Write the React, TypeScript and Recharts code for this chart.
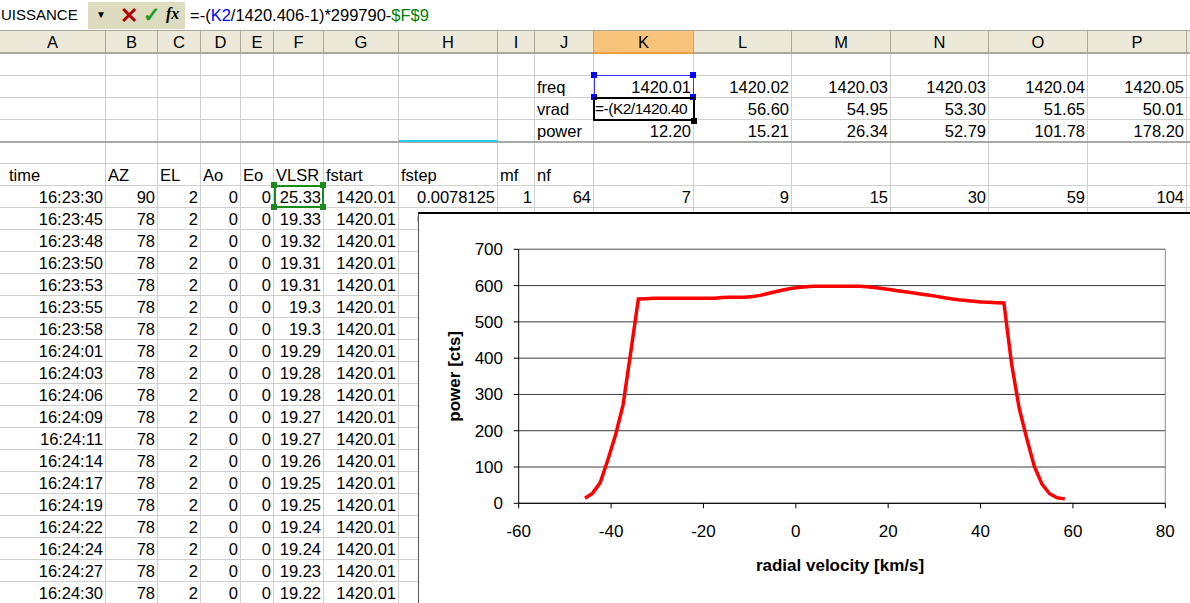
import { CartesianGrid, Label, Line, LineChart, ReferenceLine, XAxis, YAxis } from "recharts";

// radial velocity [km/s] of the 64 channels, low to high
const velocity = [
  -45.63, -43.99, -42.34, -40.69, -39.04, -37.39, -35.74, -34.09, -32.44, -30.79, -29.14, -27.49, -25.84, -24.19, -22.55, -20.9,
  -19.25, -17.6, -15.95, -14.3, -12.65, -11.0, -9.35, -7.71, -6.06, -4.41, -2.76, -1.11, 0.54, 2.19, 3.84, 5.49,
  7.13, 8.78, 10.43, 12.08, 13.73, 15.38, 17.03, 18.68, 20.33, 21.97, 23.62, 25.27, 26.92, 28.57, 30.22, 31.87,
  33.52, 35.17, 36.81, 38.46, 40.11, 41.76, 43.41, 45.06, 46.71, 48.36, 50.01, 51.65, 53.3, 54.95, 56.6, 58.25,
];
// power [cts] for each channel
const power = [
  14, 28, 57, 120, 188, 272, 416, 563, 564, 565, 565, 565, 565, 565, 565, 565,
  565, 565, 567, 568, 568, 568, 570, 573, 578, 583, 588, 592, 595, 597, 598, 598,
  598, 598, 598, 598, 598, 597, 595, 592, 589, 586, 583, 580, 577, 574, 571, 567,
  564, 561, 559, 557, 555, 554, 553, 552, 385, 262, 178.2, 101.78, 52.79, 26.34, 15.21, 12.2,
];
const xTicks = [-60, -40, -20, 0, 20, 40, 60, 80];
const yTicks = [0, 100, 200, 300, 400, 500, 600, 700];

// spreadsheet around the chart
const colNames = ["A", "B", "C", "D", "E", "F", "G", "H", "I", "J", "K", "L", "M", "N", "O", "P", "Q"];
const colEdges = [0, 106, 158, 201, 241, 274, 324, 399, 498, 535, 594, 694, 792, 891, 989, 1088, 1187, 1290];
const freqRow = ["1420.01", "1420.02", "1420.03", "1420.03", "1420.04", "1420.05"];
const vradRow = ["=-(K2/1420.40", "56.60", "54.95", "53.30", "51.65", "50.01"];
const powerRow = ["12.20", "15.21", "26.34", "52.79", "101.78", "178.20"];
const headerRow = ["time", "AZ", "EL", "Ao", "Eo", "VLSR", "fstart", "fstep", "mf", "nf"];
const times = [
  "16:23:30", "16:23:45", "16:23:48", "16:23:50", "16:23:53", "16:23:55", "16:23:58", "16:24:01", "16:24:03", "16:24:06",
  "16:24:09", "16:24:11", "16:24:14", "16:24:17", "16:24:19", "16:24:22", "16:24:24", "16:24:27", "16:24:30",
];
const azimuth = ["90", "78", "78", "78", "78", "78", "78", "78", "78", "78", "78", "78", "78", "78", "78", "78", "78", "78", "78"];
const vlsr = [
  "25.33", "19.33", "19.32", "19.31", "19.31", "19.3", "19.3", "19.29", "19.28", "19.28",
  "19.27", "19.27", "19.26", "19.25", "19.25", "19.24", "19.24", "19.23", "19.22",
];
const firstCounts = ["7", "9", "15", "30", "59", "104"];
const secondCounts = ["11", "11", "21", "51", "95", "167"];

const chartFont = "'Liberation Sans', Arial, sans-serif";
const sheetFont = "'Liberation Sans', Arial, sans-serif";
const ROW_H = 22;
const FIRST_ROW = 54;

type CellText = { t: string; left?: boolean };

function buildCells() {
  const cells: Record<string, CellText> = {};
  cells["J2"] = { t: "freq", left: true };
  cells["J3"] = { t: "vrad", left: true };
  cells["J4"] = { t: "power", left: true };
  for (let i = 0; i < 6; i++) {
    const col = colNames[10 + i];
    cells[col + "2"] = { t: freqRow[i] };
    cells[col + "3"] = { t: vradRow[i], left: i === 0 };
    cells[col + "4"] = { t: powerRow[i] };
    cells[col + "7"] = { t: firstCounts[i] };
    cells[col + "8"] = { t: secondCounts[i] };
  }
  headerRow.forEach((h, i) => (cells[colNames[i] + "6"] = { t: h, left: true }));
  times.forEach((t, i) => {
    const r = 7 + i;
    cells["A" + r] = { t };
    cells["B" + r] = { t: azimuth[i] };
    cells["C" + r] = { t: "2" };
    cells["D" + r] = { t: "0" };
    cells["E" + r] = { t: "0" };
    cells["F" + r] = { t: vlsr[i] };
    cells["G" + r] = { t: "1420.01" };
    if (r <= 8) {
      cells["H" + r] = { t: "0.0078125" };
      cells["I" + r] = { t: "1" };
      cells["J" + r] = { t: "64" };
    }
  });
  return cells;
}

function Sheet() {
  const cells = buildCells();
  const out = [];
  for (let r = 1; r <= 25; r++) {
    for (let c = 0; c < colNames.length; c++) {
      const cell = cells[colNames[c] + r];
      const editing = colNames[c] === "K" && r === 3;
      out.push(
        <div
          key={colNames[c] + r}
          style={{
            position: "absolute",
            left: colEdges[c],
            top: FIRST_ROW + (r - 1) * ROW_H,
            width: colEdges[c + 1] - colEdges[c],
            height: ROW_H,
            boxSizing: "border-box",
            borderRight: "1px solid #d0d0d0",
            borderBottom: "1px solid #d0d0d0",
            padding: c === 0 ? "0 2px 0 9px" : editing ? "0 1px" : "0 2px",
            fontSize: editing ? 15.5 : 16.5,
            lineHeight: "22px",
            letterSpacing: editing ? -0.5 : 0,
            textAlign: cell && cell.left ? "left" : "right",
            whiteSpace: "nowrap",
            overflow: "hidden",
          }}
        >
          {cell ? cell.t : ""}
        </div>,
      );
    }
  }
  return <>{out}</>;
}

function Handles({ x, y, w, h, color }: { x: number; y: number; w: number; h: number; color: string }) {
  const pts = [
    [x, y],
    [x + w, y],
    [x, y + h],
    [x + w, y + h],
  ];
  return (
    <>
      {pts.map(([px, py], i) => (
        <div key={i} style={{ position: "absolute", left: px - 3, top: py - 3, width: 6, height: 6, background: color }} />
      ))}
    </>
  );
}

export default function App() {
  const data = velocity.map((v, i) => ({ v, p: power[i] }));

  return (
    <div style={{ position: "fixed", left: 0, top: 0, width: 1190, height: 603, overflow: "hidden", background: "#fff", fontFamily: sheetFont, color: "#000" }}>
      {/* formula bar */}
      <div style={{ position: "absolute", left: 0, top: 0, width: 1190, height: 31, background: "#fff", borderBottom: "1px solid #aca899", boxSizing: "border-box" }} />
      <div style={{ position: "absolute", left: 1, top: 6, fontSize: 15, whiteSpace: "nowrap" }}>UISSANCE</div>
      <div style={{ position: "absolute", left: 88, top: 2, width: 97, height: 27, background: "#dedcc0" }} />
      <div style={{ position: "absolute", left: 96, top: 9, fontSize: 10 }}>▼</div>
      <div style={{ position: "absolute", left: 120, top: 3, fontSize: 22, fontWeight: "bold", color: "#b00000" }}>✕</div>
      <div style={{ position: "absolute", left: 143, top: 3, fontSize: 21, fontWeight: "bold", color: "#1f9a1f" }}>✓</div>
      <div style={{ position: "absolute", left: 166, top: 5, fontSize: 16, fontWeight: "bold", fontStyle: "italic", fontFamily: "'Liberation Serif', serif" }}>fx</div>
      <div style={{ position: "absolute", left: 190, top: 6, fontSize: 16.5, whiteSpace: "nowrap" }}>
        =-(<span style={{ color: "#0000ff" }}>K2</span>/1420.406-1)*299790-<span style={{ color: "#008000" }}>$F$9</span>
      </div>

      {/* column headers */}
      {colNames.map((name, c) => (
        <div
          key={name}
          style={{
            position: "absolute",
            left: colEdges[c],
            top: 31,
            width: colEdges[c + 1] - colEdges[c],
            height: 23,
            boxSizing: "border-box",
            background: name === "K" ? "#f8c47c" : "#ece9d8",
            borderRight: "1px solid #aca899",
            borderBottom: name === "K" ? "2px solid #e8a040" : "2px solid #aca899",
            textAlign: "center",
            fontSize: 16.5,
            lineHeight: "22px",
          }}
        >
          {name === "Q" ? "" : name}
        </div>
      ))}

      <Sheet />

      {/* frozen pane line and selections */}
      <div style={{ position: "absolute", left: 0, top: 141, width: 1190, height: 2, background: "#a8a8a8" }} />
      <div style={{ position: "absolute", left: 399, top: 140, width: 99, height: 2, background: "#22ccee" }} />
      <div style={{ position: "absolute", left: 594, top: 75, width: 100, height: 23, boxSizing: "border-box", border: "1px solid #3a3aff" }} />
      <Handles x={594} y={75} w={99} h={22} color="#0000ff" />
      <div style={{ position: "absolute", left: 594, top: 97, width: 100, height: 2, background: "#f0e020" }} />
      <div style={{ position: "absolute", left: 593, top: 97, width: 102, height: 24, boxSizing: "border-box", border: "2px solid #000" }} />
      <div style={{ position: "absolute", left: 691, top: 118, width: 6, height: 6, background: "#000" }} />
      <div style={{ position: "absolute", left: 274, top: 185, width: 50, height: 23, boxSizing: "border-box", border: "2px solid #1a8a1a" }} />
      <Handles x={274} y={185} w={49} h={22} color="#1a8a1a" />

      {/* chart */}
      <div style={{ position: "absolute", left: 418, top: 212, width: 800, height: 400, background: "#fff", borderTop: "2px solid #000", borderLeft: "1px solid #555" }}>
        <LineChart width={780} height={400} data={data} margin={{ top: 35.3, right: 33.7, bottom: 30.7, left: 0 }}>
          <CartesianGrid vertical={false} stroke="#3c3c3c" />
          <XAxis
            dataKey="v"
            type="number"
            domain={[-60, 80]}
            ticks={xTicks}
            interval={0}
            height={80}
            stroke="#000"
            tickSize={5}
            tickMargin={17}
            tick={{ fill: "#000", fontSize: 17, fontFamily: chartFont }}
          >
            <Label
              content={(props: any) => {
                const vb = props.viewBox;
                return (
                  <text x={vb.x + vb.width / 2 - 2} y={vb.y + 62} textAnchor="middle" dominantBaseline="central" fontSize={17} fontWeight="bold" fontFamily={chartFont} fill="#000">
                    radial velocity [km/s]
                  </text>
                );
              }}
            />
          </XAxis>
          <YAxis
            type="number"
            domain={[0, 700]}
            ticks={yTicks}
            interval={0}
            width={99.7}
            stroke="#000"
            tickSize={5}
            tickMargin={10.7}
            tick={{ fill: "#000", fontSize: 17, fontFamily: chartFont }}
          >
            <Label
              content={(props: any) => {
                const vb = props.viewBox;
                const x = vb.x + 35.5;
                const y = vb.y + vb.height / 2;
                return (
                  <text x={x} y={y} transform={`rotate(-90, ${x}, ${y})`} textAnchor="middle" dominantBaseline="central" fontSize={17} fontWeight="bold" fontFamily={chartFont} fill="#000">
                    power [cts]
                  </text>
                );
              }}
            />
          </YAxis>
          <ReferenceLine y={700} stroke="#8c8c8c" />
          <ReferenceLine x={80} stroke="#8c8c8c" />
          <Line type="linear" dataKey="p" stroke="#ff0000" strokeWidth={3.5} dot={false} isAnimationActive={false} />
        </LineChart>
      </div>
    </div>
  );
}
